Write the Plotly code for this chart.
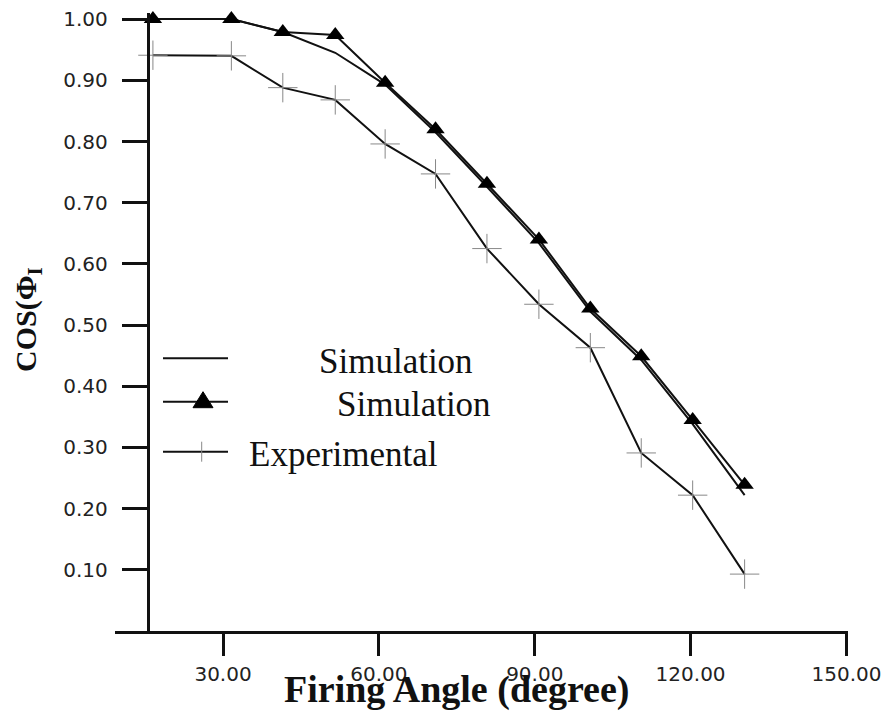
import plotly.graph_objects as go

# ---- data ----
angle = [16.5, 31.6, 41.5, 51.6, 61.2, 70.9, 80.8, 90.8, 100.7, 110.5, 120.4, 130.4]
sim_plain = [1.000, 1.000, 0.979, 0.945, 0.893, 0.815, 0.726, 0.634, 0.522, 0.443, 0.338, 0.222]
sim_tri = [1.000, 1.000, 0.979, 0.974, 0.896, 0.820, 0.731, 0.640, 0.527, 0.449, 0.345, 0.239]
experimental = [0.941, 0.940, 0.888, 0.868, 0.796, 0.747, 0.625, 0.534, 0.463, 0.291, 0.222, 0.093]

x_ticks = [30, 60, 90, 120, 150]
y_ticks = [0.1, 0.2, 0.3, 0.4, 0.5, 0.6, 0.7, 0.8, 0.9, 1.0]

legend_names = ["Simulation", "Simulation", "Experimental"]

x_range = [9.2, 150.3]
y_range = [0.0, 1.01]
y_axis_at = 15.5

fig = go.Figure()
fig.add_trace(go.Scatter(x=angle, y=sim_plain, mode="lines", name=legend_names[0],
                         line=dict(color="#111", width=2), cliponaxis=False))
fig.add_trace(go.Scatter(x=angle, y=experimental, mode="lines+markers", name=legend_names[2],
                         line=dict(color="#111", width=2),
                         marker=dict(symbol="cross-thin", size=21, color="#888",
                                     line=dict(color="#888", width=1)),
                         cliponaxis=False))
fig.add_trace(go.Scatter(x=angle, y=sim_tri, mode="lines+markers", name=legend_names[1],
                         line=dict(color="#111", width=2),
                         marker=dict(symbol="triangle-up", size=16, color="#000"),
                         cliponaxis=False))

tick_font = dict(family="DejaVu Sans", size=20, color="#222")

# page has an 8px body margin, so the figure is sized to fit the 890x713 window
OFF = 8
FIG_W, FIG_H = 890 - OFF, 713 - OFF
L, R_EDGE, TOP, BOT = 115.0, 848.0, 13.0, 631.0

fig.update_layout(
    width=FIG_W, height=FIG_H,
    margin=dict(l=L - OFF, r=FIG_W - (R_EDGE - OFF), t=TOP - OFF, b=FIG_H - (BOT - OFF)),
    paper_bgcolor="white", plot_bgcolor="white",
    showlegend=False,
    xaxis=dict(range=x_range, tickvals=x_ticks, tickformat=".2f",
               showgrid=False, zeroline=False, automargin=False,
               showline=True, linecolor="#111", linewidth=3,
               ticks="outside", ticklen=22, tickwidth=3, tickcolor="#111",
               tickfont=tick_font, ticklabelstandoff=1, ticklabeloverflow="allow"),
    yaxis=dict(range=y_range, tickvals=y_ticks, tickformat=".2f",
               anchor="free", position=(y_axis_at - x_range[0]) / (x_range[1] - x_range[0]),
               showgrid=False, zeroline=False, automargin=False,
               showline=True, linecolor="#111", linewidth=3,
               ticks="outside", ticklen=25, tickwidth=3, tickcolor="#111",
               tickfont=tick_font, ticklabelstandoff=10, ticklabeloverflow="allow"),
)

W, H = R_EDGE - L, BOT - TOP


def px(xp):
    return (xp - L) / W


def py(yp):
    return (BOT - yp) / H


serif = "Liberation Serif"

# axis titles
fig.add_annotation(text="<b>Firing Angle (degree)</b>", xref="paper", yref="paper",
                   x=px(456), y=py(689), xanchor="center", yanchor="middle",
                   showarrow=False, font=dict(family=serif, size=38, color="#111"))
fig.add_annotation(text="<b>COS(Φ<sub>I</sub></b>", xref="paper", yref="paper",
                   x=px(28), y=py(320), xanchor="center", yanchor="middle", textangle=-90,
                   showarrow=False, font=dict(family=serif, size=30, color="#111"))

# hand-placed legend
leg_y = [358.3, 401.7, 451.7]
leg_text_x = [316.7, 335.0, 246.7]
for i, name in enumerate(legend_names):
    fig.add_shape(type="line", xref="paper", yref="paper",
                  x0=px(163), x1=px(228), y0=py(leg_y[i]), y1=py(leg_y[i]),
                  line=dict(color="#111", width=2))
    fig.add_annotation(text=name, xref="paper", yref="paper",
                       x=px(leg_text_x[i]), y=py(leg_y[i] + 3), xanchor="left", yanchor="middle",
                       showarrow=False, font=dict(family=serif, size=35, color="#111"))

fig.add_shape(type="path", xref="paper", yref="paper", xsizemode="pixel", ysizemode="pixel",
              xanchor=px(203), yanchor=py(leg_y[1]),
              path="M-10,-6 L10,-6 L0,10 Z", fillcolor="#000", line=dict(color="#000", width=1))
fig.add_shape(type="path", xref="paper", yref="paper", xsizemode="pixel", ysizemode="pixel",
              xanchor=px(201.7), yanchor=py(leg_y[2]),
              path="M0,-10 L0,10", line=dict(color="#888", width=1))

fig.write_html("out.html")
